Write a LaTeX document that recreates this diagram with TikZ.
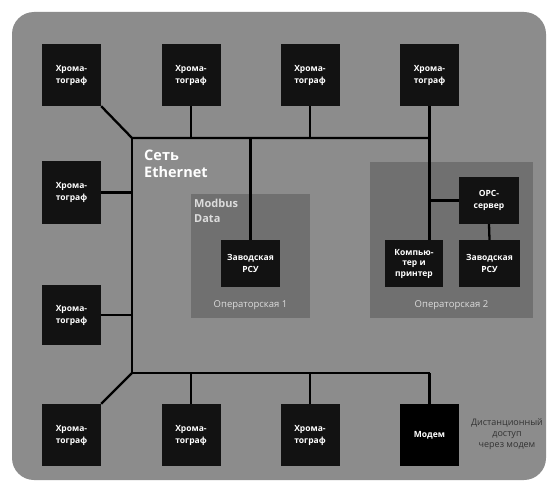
\documentclass[tikz,border=0pt]{standalone}
\usepackage{fontspec}
\setmainfont{Open Sans}
\definecolor{panel}{HTML}{8C8C8C}
\definecolor{room}{HTML}{707070}
\definecolor{boxc}{HTML}{121212}
\definecolor{lbl}{HTML}{DCDCDC}
\begin{document}
\begin{tikzpicture}[x=1pt,y=-1pt,
  dev/.style={fill=boxc,draw=none,minimum width=59pt,minimum height=62pt,inner sep=1pt,
    text=white,font=\fontsize{8.5}{12}\selectfont\bfseries,align=center},
  wire/.style={line width=2.3pt,draw=black},
  roomlbl/.style={text=lbl,font=\fontsize{9.5}{11}\selectfont,inner sep=0pt}]
\useasboundingbox (0,0) rectangle (551,484);
\fill[white] (0,0) rectangle (551,484);
\fill[panel,rounded corners=22pt] (12,12) rectangle (546,480);
% operator rooms
\fill[room] (191,194) rectangle (310,318);
\fill[room] (370,162) rectangle (533,318);
% devices
\node[dev] (t1) at (71.5,75) {Хрома-\\тограф};
\node[dev] (t2) at (191,75) {Хрома-\\тограф};
\node[dev] (t3) at (310,75) {Хрома-\\тограф};
\node[dev] (t4) at (429.5,75) {Хрома-\\тограф};
\node[dev,minimum height=63pt] (l1) at (71.5,192.5) {Хрома-\\тограф};
\node[dev,minimum height=60pt] (l2) at (71.5,315) {Хрома-\\тограф};
\node[dev] (b1) at (71.5,435) {Хрома-\\тограф};
\node[dev] (b2) at (191,435) {Хрома-\\тограф};
\node[dev] (b3) at (310,435) {Хрома-\\тограф};
\node[dev,fill=black] (modem) at (429.5,435) {Модем};
\node[dev,minimum height=47pt] (rsu1) at (250.5,263.5) {Заводская\\РСУ};
\node[dev,minimum width=58pt,minimum height=47pt,font=\fontsize{8.5}{10.5}\selectfont\bfseries] (comp) at (414,263.5) {Компью-\\тер и\\принтер};
\node[dev,minimum width=60pt,minimum height=47pt] (opc) at (489,200.5) {OPC-\\сервер};
\node[dev,minimum width=61pt,minimum height=47pt] (rsu2) at (489.5,263.5) {Заводская\\РСУ};
% texts
\node[anchor=north west,text=white,font=\fontsize{14.5}{17}\selectfont\bfseries,align=left,inner sep=0pt] (eth) at (144,150) {Сеть\\Ethernet};
\node[anchor=north west,text=lbl,font=\fontsize{11}{15}\selectfont\bfseries,align=left,inner sep=0pt] (mb) at (194,199) {Modbus\\Data};
\node[roomlbl] (op1) at (250.5,305) {Операторская 1};
\node[roomlbl] (op2) at (451.5,305) {Операторская 2};
\node[text=black!80,font=\fontsize{9}{11}\selectfont,align=center,inner sep=0pt] (remote) at (507,434) {Дистанционный\\доступ\\через модем};
% bus coordinates
\coordinate (tl) at (132,138);
\coordinate (tr) at (429.5,138);
\coordinate (bl) at (132,373);
\coordinate (br) at (429.5,373);
% wires
\draw[wire] (t1.south east) -- (tl) -- (tr);
\draw[wire] (tl) -- (bl) -- (br);
\draw[wire] (t2.south) -- (t2 |- tl);
\draw[wire] (t3.south) -- (t3 |- tl);
\draw[wire] (t4.south) -- (t4 |- comp.north);
\draw[wire] (l1.east) -- (l1 -| tl);
\draw[wire] (l2.east) -- (l2 -| tl);
\draw[wire] (bl) -- (b1.north east);
\draw[wire] (b2.north) -- (b2 |- bl);
\draw[wire] (b3.north) -- (b3 |- bl);
\draw[wire] (modem.north) -- (br);
\draw[wire] (rsu1 |- tl) -- (rsu1.north);
\draw[wire] (opc.west -| t4) -- (opc.west);
\draw[wire] (opc.south) -- (rsu2.north);
\end{tikzpicture}
\end{document}
